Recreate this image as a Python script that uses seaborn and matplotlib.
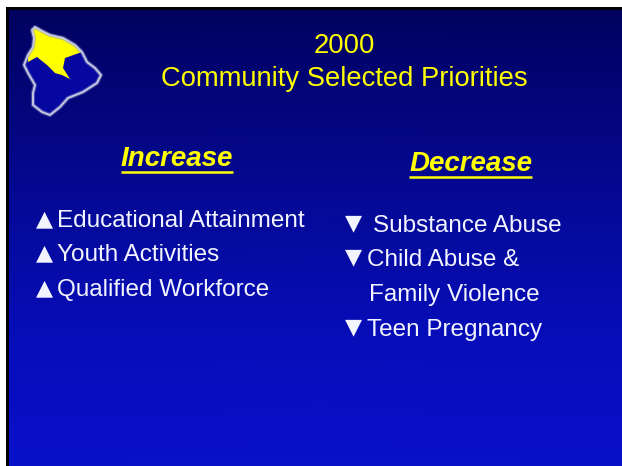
import numpy as np
import matplotlib
matplotlib.use("Agg")
import matplotlib.pyplot as plt
from matplotlib.colors import LinearSegmentedColormap
from matplotlib.patches import Polygon
import seaborn as sns

W, H = 622, 466
FONT = ["Liberation Sans", "DejaVu Sans"]

title_lines = ["2000", "Community Selected Priorities"]
increase_head = "Increase"
decrease_head = "Decrease"
increase_items = ["Educational Attainment", "Youth Activities", "Qualified Workforce"]
decrease_items = ["Substance Abuse", "Child Abuse &", "Family Violence", "Teen Pregnancy"]

# Background shade read down the slide, top to bottom
band_levels = [0.00, 0.08, 0.17, 0.25, 0.33, 0.42, 0.50, 0.58, 0.67, 0.75, 0.83, 0.92, 1.00]
band_colors = ["#02025f", "#02026a", "#030475", "#04067f", "#04078a", "#050995",
               "#050a9f", "#060ba9", "#060cb2", "#070dba", "#070ec0", "#080fc5", "#0810c8"]

island_outline = [(32, 30), (35, 27), (42, 31), (50, 35), (63, 38), (75, 45), (82, 52), (87, 62),
                  (95, 68), (101, 75), (97, 83), (83, 92), (68, 98), (60, 107), (50, 115),
                  (42, 112), (33, 105), (33, 93), (35, 85), (28, 73), (24, 65), (28, 55), (33, 47), (34, 38)]
island_yellow = [(32, 30), (35, 27), (42, 31), (50, 35), (63, 38), (75, 45), (82, 52), (65, 58),
                 (63, 68), (70, 79), (62, 75), (55, 73), (47, 65), (37, 57), (28, 62), (28, 55),
                 (33, 47), (34, 38)]

sns.set_theme(style="white")
plt.rcParams["font.family"] = FONT

fig = plt.figure(figsize=(W / 100, H / 100), dpi=100, facecolor="white")

# Panel: black frame on the left and top, gradient inside
frame = fig.add_axes([5.5 / W, 0, 1 - 5.5 / W, 1 - 6.5 / H])
frame.set_facecolor("black")
frame.set_xticks([]); frame.set_yticks([])
for s in frame.spines.values():
    s.set_visible(False)

grad = fig.add_axes([8.5 / W, 0, 1 - 8.5 / W, 1 - 9.5 / H])
cmap = LinearSegmentedColormap.from_list("slide", list(zip(band_levels, band_colors)))
sns.heatmap(np.column_stack([band_levels, band_levels]), ax=grad, cmap=cmap, vmin=0, vmax=1,
            cbar=False, xticklabels=False, yticklabels=False, shading="gouraud")
grad.set_xlim(0, 1)
grad.set_ylim(len(band_levels) - 1, 0)

# Overlay in pixel coordinates
ax = fig.add_axes([0, 0, 1, 1])
ax.set_xlim(0, W); ax.set_ylim(H, 0)
ax.axis("off"); ax.patch.set_alpha(0)

ax.add_patch(Polygon(island_outline, closed=True, facecolor="#0606a0", edgecolor="none"))
ax.add_patch(Polygon(island_yellow, closed=True, facecolor="#ffff00", edgecolor="none"))
ax.add_patch(Polygon(island_outline, closed=True, facecolor="none", edgecolor="#8d93c4", lw=3.0, alpha=0.45, joinstyle="round"))
ax.add_patch(Polygon(island_outline, closed=True, facecolor="none", edgecolor="#c4c8e0", lw=1.4, joinstyle="round"))

YEL = "#ffff00"
TXT = "#f2f4ff"
for s, y in zip(title_lines, [46, 79]):
    ax.text(344, y, s, color=YEL, fontsize=19.7, ha="center", va="center")

ax.text(177, 159, increase_head, color=YEL, fontsize=20, fontweight="bold", fontstyle="italic", ha="center", va="center")
ax.plot([121, 233], [172, 172], color=YEL, lw=1.8, solid_capstyle="butt")
ax.text(471, 164, decrease_head, color=YEL, fontsize=20, fontweight="bold", fontstyle="italic", ha="center", va="center")
ax.plot([409, 532], [176.5, 176.5], color=YEL, lw=1.8, solid_capstyle="butt")

for s, y in zip(increase_items, [221, 255, 290]):
    ax.text(35.5, y - 2, "▲", color=TXT, fontsize=16, ha="left", va="center", family="DejaVu Sans")
    ax.text(57, y, s, color=TXT, fontsize=17.5, ha="left", va="center")

dec_x = [373, 367, 369, 367]
dec_y = [226, 260, 295, 330]
dec_mark = [True, True, False, True]
for s, x, y, m in zip(decrease_items, dec_x, dec_y, dec_mark):
    if m:
        ax.text(344.5, y - 3, "▼", color=TXT, fontsize=16, ha="left", va="center", family="DejaVu Sans")
    ax.text(x, y, s, color=TXT, fontsize=17.5, ha="left", va="center")

fig.savefig("out.png", dpi=100, facecolor="white")
